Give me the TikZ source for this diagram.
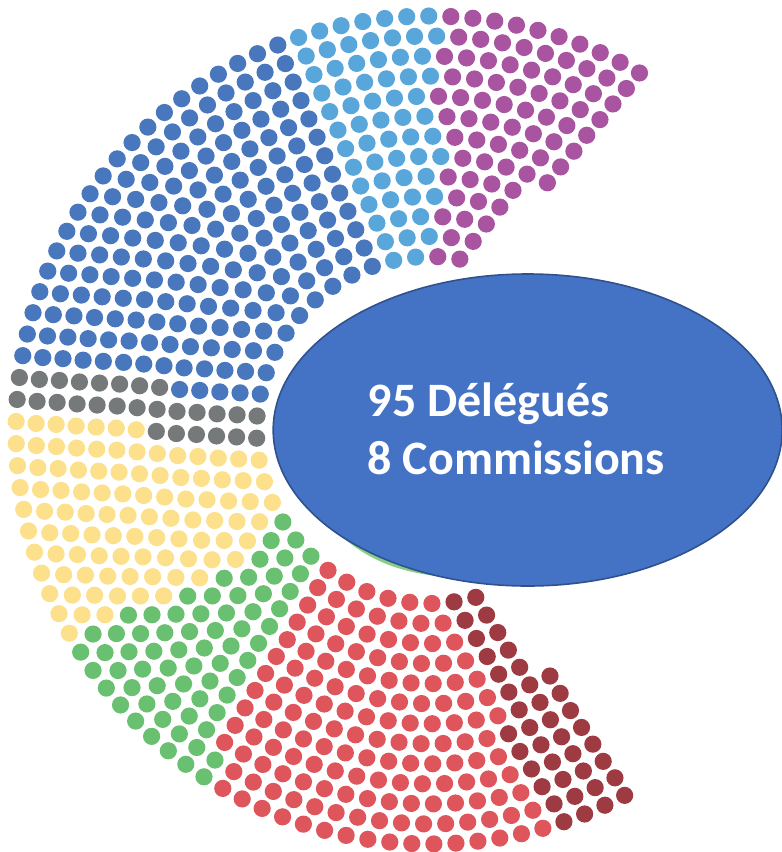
\documentclass[tikz,border=0pt]{standalone}
\usepackage{fontspec}
\setmainfont{Carlito}
\definecolor{cP}{HTML}{A854A0}
\definecolor{cL}{HTML}{58A6DA}
\definecolor{cB}{HTML}{4877BD}
\definecolor{cG}{HTML}{76797A}
\definecolor{cY}{HTML}{FCE08C}
\definecolor{cN}{HTML}{69C070}
\definecolor{cR}{HTML}{DE565C}
\definecolor{cD}{HTML}{9E3A42}
\definecolor{hubfill}{HTML}{4472C4}
\definecolor{hubline}{HTML}{2F528F}
\definecolor{sliver}{HTML}{86CE86}
\tikzset{
  seat/.style={fill=#1},
  hubtext/.style={text=white, font=\fontsize{48}{57}\selectfont\bfseries, inner sep=0pt, anchor=base west}
}
\begin{document}
\begin{tikzpicture}[x=1pt,y=-1pt]
\useasboundingbox (0,0) rectangle (782,852);
\foreach \rk/\rT/\rB/\rN/\sA/\sB/\sC/\sD/\sE/\sF/\sG in {
0/80.1/285.3/29/2/4/13/15/18/21/27,
1/77.1/287.0/33/2/5/15/17/21/24/31,
2/74.7/288.5/37/3/6/17/19/24/27/35,
3/72.6/289.6/41/3/7/19/21/27/30/39,
4/70.9/290.7/45/4/8/21/23/29/33/43,
5/64.6/296.0/51/5/10/23/26/33/37/48,
6/63.6/296.3/55/6/11/25/27/35/40/52,
7/62.7/296.6/59/7/12/27/29/38/43/55,
8/62.0/297.0/63/8/13/29/31/40/46/59,
9/61.3/297.4/67/8/14/31/33/42/49/63,
10/60.7/297.6/71/9/15/33/35/45/52/67,
11/60.1/298.0/75/9/16/35/37/47/56/71,
12/59.6/298.05/79/10/17/37/39/50/59/75}{
  \pgfmathsetmacro\rad{173.5+20.04*\rk}
  \pgfmathsetmacro\stp{(\rB-\rT)/(\rN-1)}
  \pgfmathtruncatemacro\rM{\rN-1}
  \foreach \j in {0,...,\rM}{
    \pgfmathsetmacro\th{\rT+\j*\stp}
    \ifnum\j<\sA\relax \def\seatcol{cP}\else
    \ifnum\j<\sB\relax \def\seatcol{cL}\else
    \ifnum\j<\sC\relax \def\seatcol{cB}\else
    \ifnum\j<\sD\relax \def\seatcol{cG}\else
    \ifnum\j<\sE\relax \def\seatcol{cY}\else
    \ifnum\j<\sF\relax \def\seatcol{cN}\else
    \ifnum\j<\sG\relax \def\seatcol{cR}\else \def\seatcol{cD}\fi\fi\fi\fi\fi\fi\fi
    \fill[seat=\seatcol] ({430+\rad*cos(\th)},{430-\rad*sin(\th)}) circle[radius=8.6];
  }
}
% green sliver peeking under the ellipse
\fill[sliver] plot[domain=110:137, samples=40, variable=\t]
  ({527.7+(254.5+4*sin((\t-110)*180/27))*cos(\t)},{430+(156+4*sin((\t-110)*180/27))*sin(\t)}) -- cycle;
% central ellipse
\draw[fill=hubfill, draw=hubline, line width=1.6pt] (527.7,430) ellipse[x radius=254.5, y radius=156];
\node[hubtext] (t1) at (367.5,416.7) {95 Délégués};
\node[hubtext] (t2) at (367.5,474) {8 Commissions};
\end{tikzpicture}
\end{document}
